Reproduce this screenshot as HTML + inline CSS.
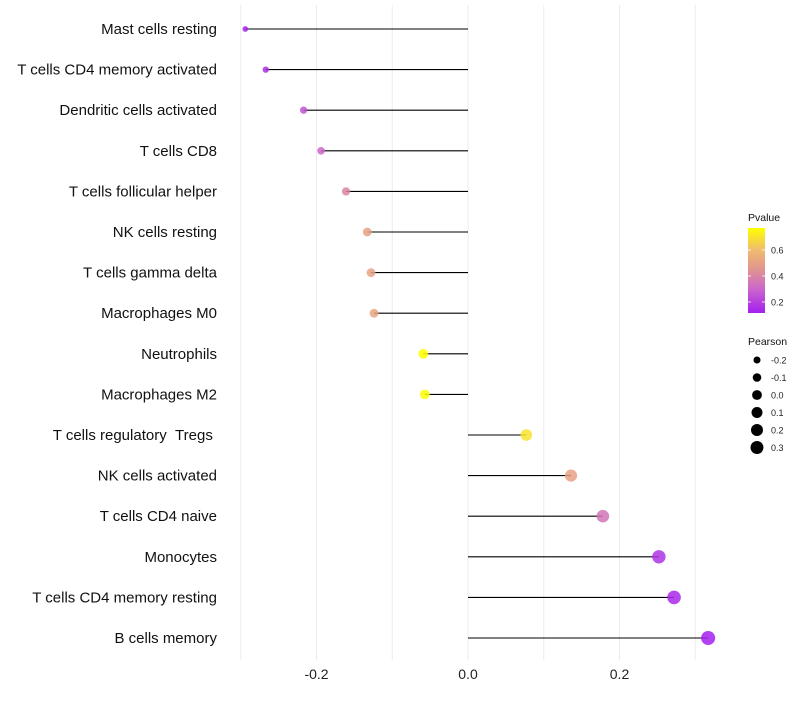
<!DOCTYPE html>
<html><head><meta charset="utf-8"><style>
body{margin:0;background:#fff;font-family:"Liberation Sans",sans-serif}
</style></head><body>
<svg id="c" width="800" height="700" xmlns="http://www.w3.org/2000/svg"></svg>
<script>
const categories=["Mast cells resting","T cells CD4 memory activated","Dendritic cells activated","T cells CD8","T cells follicular helper","NK cells resting","T cells gamma delta","Macrophages M0","Neutrophils","Macrophages M2","T cells regulatory\u00a0\u00a0Tregs\u00a0","NK cells activated","T cells CD4 naive","Monocytes","T cells CD4 memory resting","B cells memory"];
const pearson=[-0.294,-0.267,-0.217,-0.194,-0.161,-0.133,-0.128,-0.124,-0.059,-0.057,0.077,0.136,0.178,0.252,0.272,0.317];
const pvalue=[0.12,0.15,0.25,0.3,0.4,0.5,0.5,0.52,0.77,0.76,0.7,0.5,0.35,0.17,0.14,0.12];
const xTicks=[-0.2,0.0,0.2];
const xTickLabels=["-0.2","0.0","0.2"];
const xGrid=[-0.3,-0.2,-0.1,0,0.1,0.2,0.3];
const pTicks=[0.2,0.4,0.6];
const sizeTicks=[-0.2,-0.1,0.0,0.1,0.2,0.3];

const NS="http://www.w3.org/2000/svg";
const svg=document.getElementById('c');
const X=v=>468+v*757.5;
const Y=i=>29+i*40.6;
const R=v=>Math.sqrt(Math.max(1,28+68*v));
const stops=[[0.115,[163,31,240]],[0.3,[204,102,204]],[0.45,[224,148,143]],[0.6,[240,187,112]],[0.77,[255,255,0]]];
function col(p){if(p<=stops[0][0])return 'rgb('+stops[0][1]+')';for(let k=1;k<stops.length;k++){if(p<=stops[k][0]){const a=stops[k-1],b=stops[k],t=(p-a[0])/(b[0]-a[0]);return 'rgb('+a[1].map((c,j)=>Math.round(c+(b[1][j]-c)*t)).join(',')+')';}}return 'rgb(255,255,0)';}
function mk(t,a){const e=document.createElementNS(NS,t);for(const k in a)e.setAttribute(k,a[k]);svg.appendChild(e);return e;}
xGrid.forEach(v=>{const g=mk('line',{x1:X(v),x2:X(v),y1:5,y2:660,stroke:'#ebebeb','stroke-width':1});

});
xTicks.forEach((v,i)=>{const t=mk('text',{x:X(v),y:679,'text-anchor':'middle','font-size':14,fill:'#222'});t.textContent=xTickLabels[i];

});
categories.forEach((c,i)=>{
const t=mk('text',{x:217,y:Y(i)+5,'text-anchor':'end','font-size':15,fill:'#111'});t.textContent=c;


const l=mk('line',{x1:X(0),x2:X(pearson[i]),y1:Y(i),y2:Y(i),stroke:'#000','stroke-width':1.1});


const d=mk('circle',{cx:X(pearson[i]),cy:Y(i),r:R(pearson[i]),fill:col(pvalue[i]),'fill-opacity':0.85});


});
// legend
let t=mk('text',{x:748,y:221,'font-size':10.5,fill:'#111'});t.textContent='Pvalue';


const defs=mk('defs',{});const lg=document.createElementNS(NS,'linearGradient');lg.setAttribute('id','pg');lg.setAttribute('x1','0');lg.setAttribute('y1','1');lg.setAttribute('x2','0');lg.setAttribute('y2','0');defs.appendChild(lg);
stops.forEach(s=>{const st=document.createElementNS(NS,'stop');st.setAttribute('offset',(s[0]-0.115)/(0.77-0.115));st.setAttribute('stop-color','rgb('+s[1]+')');lg.appendChild(st);});
const PY=p=>313-(p-0.115)*130;
const cb=mk('rect',{x:748,y:228,width:17,height:85,fill:'url(#pg)'});


pTicks.forEach(p=>{mk('line',{x1:748,x2:751,y1:PY(p),y2:PY(p),stroke:'#fff','stroke-width':0.8});mk('line',{x1:762,x2:765,y1:PY(p),y2:PY(p),stroke:'#fff','stroke-width':0.8});
const tt=mk('text',{x:771,y:PY(p)+3.5,'font-size':9,fill:'#222'});tt.textContent=p.toFixed(1);

});
t=mk('text',{x:748,y:345,'font-size':10.5,fill:'#111'});t.textContent='Pearson';


sizeTicks.forEach((s,i)=>{const yy=360+i*17.5;
const c=mk('circle',{cx:757,cy:yy,r:R(s)*0.93,fill:'#000'});


const tt=mk('text',{x:771,y:yy+3.5,'font-size':9,fill:'#222'});tt.textContent=s.toFixed(1);

});
</script>
</body></html>
